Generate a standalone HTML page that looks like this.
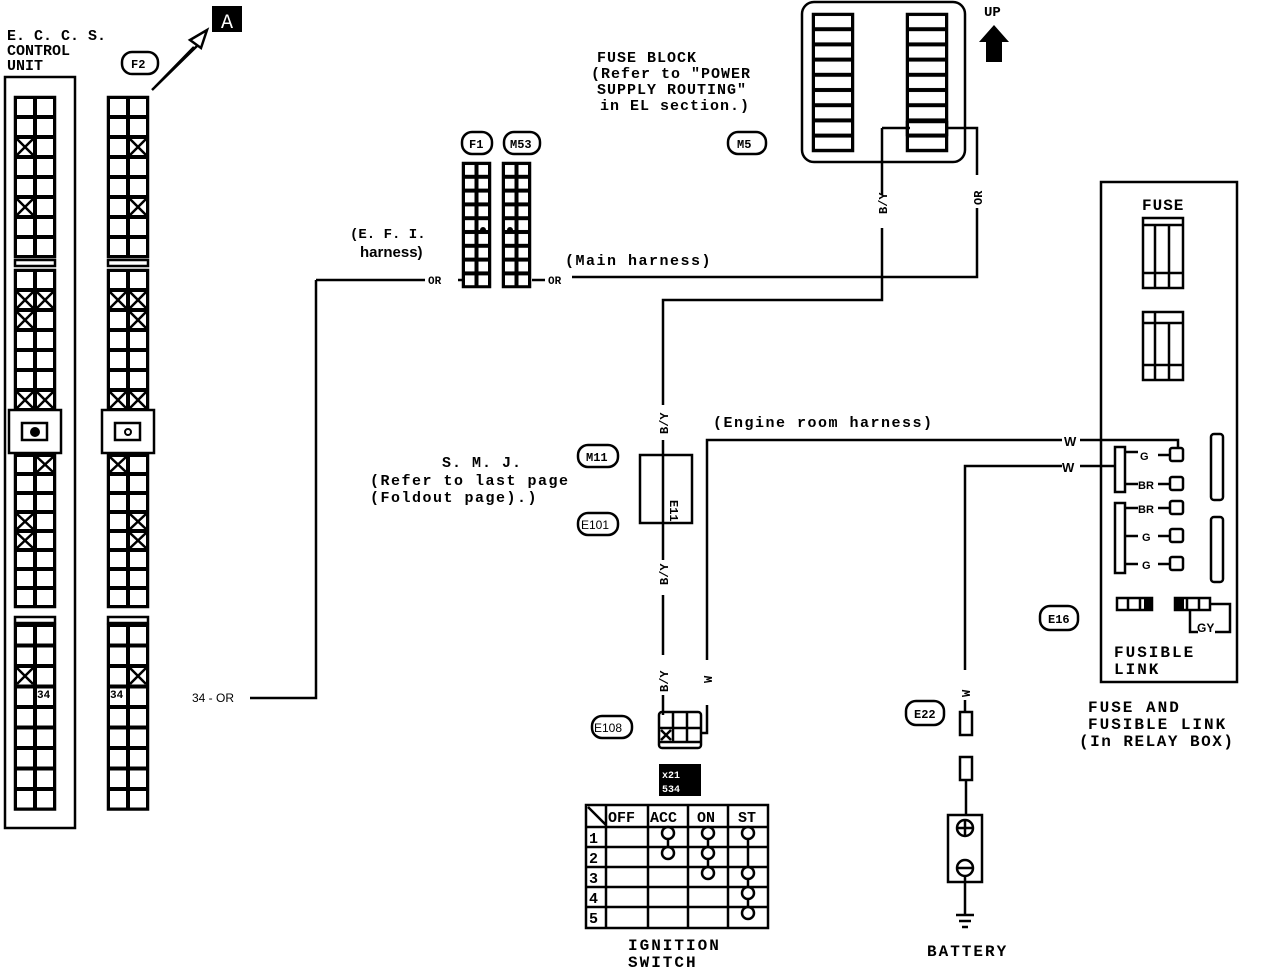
<!DOCTYPE html>
<html><head><meta charset="utf-8"><style>
html,body{margin:0;padding:0;background:#fff;}
svg{display:block;}
text{font-family:"Liberation Mono",monospace;font-weight:bold;fill:#000;}
</style></head><body>
<svg width="1264" height="970" viewBox="0 0 1264 970" xmlns="http://www.w3.org/2000/svg">
<defs>
<pattern id="c20" width="20" height="20" patternUnits="userSpaceOnUse"><rect x="0" y="0" width="20" height="20" fill="none" stroke="#000" stroke-width="4"/></pattern>
<pattern id="c19" width="20" height="19" patternUnits="userSpaceOnUse"><rect x="0" y="0" width="20" height="19" fill="none" stroke="#000" stroke-width="4"/></pattern>
<pattern id="c21" width="20" height="20.5" patternUnits="userSpaceOnUse"><rect x="0" y="0" width="20" height="20.5" fill="none" stroke="#000" stroke-width="4"/></pattern>
<pattern id="cf" width="13.5" height="13.8" patternUnits="userSpaceOnUse"><rect x="0" y="0" width="13.5" height="13.8" fill="none" stroke="#000" stroke-width="4"/></pattern>
<pattern id="cb" width="40" height="15.2" patternUnits="userSpaceOnUse"><rect x="0" y="0" width="40" height="15.2" fill="none" stroke="#000" stroke-width="4"/></pattern>
<g id="eccs" stroke="#000" stroke-width="2.5">
<g transform="translate(0,97)"><rect width="40" height="160" fill="url(#c20)"/></g>
<rect x="0" y="260" width="40" height="6" fill="none"/>
<g transform="translate(0,270)"><rect width="40" height="140" fill="url(#c20)"/></g>
<rect x="-6" y="410" width="52" height="43" fill="#fff"/>
<rect x="7" y="423" width="25" height="17" fill="none"/>
<g transform="translate(0,455)"><rect width="40" height="152" fill="url(#c19)"/></g>
<rect x="0" y="617" width="40" height="6" fill="none"/>
<g transform="translate(0,625)"><rect width="40" height="184.5" fill="url(#c21)"/></g>
</g>
</defs>
<use href="#eccs" x="15" y="0"/>
<use href="#eccs" x="108" y="0"/>
<circle cx="35" cy="432" r="5" fill="#000"/>
<circle cx="128" cy="432" r="3" fill="none" stroke="#000" stroke-width="2"/>
<g transform="translate(463,163)" stroke="#000" stroke-width="2.5"><rect width="27" height="124" fill="url(#cf)"/></g>
<g transform="translate(503,163)" stroke="#000" stroke-width="2.5"><rect width="27" height="124" fill="url(#cf)"/></g>
<g transform="translate(813,14)" stroke="#000" stroke-width="2.5"><rect width="40" height="137" fill="url(#cb)"/></g>
<g transform="translate(907,14)" stroke="#000" stroke-width="2.5"><rect width="40" height="137" fill="url(#cb)"/></g>
<circle cx="483" cy="230" r="3" fill="#000"/><circle cx="510" cy="230" r="3" fill="#000"/>
<g stroke="#000" stroke-width="2.5" fill="none">
<path d="M17 139L33 155M33 139L17 155M17 199L33 215M33 199L17 215M17 292L33 308M33 292L17 308M37 292L53 308M53 292L37 308M17 312L33 328M33 312L17 328M17 392L33 408M33 392L17 408M37 392L53 408M53 392L37 408M37 457L53 472M53 457L37 472M17 514L33 529M33 514L17 529M17 533L33 548M33 533L17 548M17 668L33 684M33 668L17 684"/>
<path d="M130 139L146 155M146 139L130 155M130 199L146 215M146 199L130 215M110 292L126 308M126 292L110 308M130 292L146 308M146 292L130 308M130 312L146 328M146 312L130 328M110 392L126 408M126 392L110 408M130 392L146 408M146 392L130 408M110 457L126 472M126 457L110 472M130 514L146 529M146 514L130 529M130 533L146 548M146 533L130 548M130 668L146 684M146 668L130 684"/>
<rect x="5" y="77" width="70" height="751"/>
<path d="M152 90 L198 45 M190 40 L207 30 L201 48 Z M155 87 L194 47"/>
<rect x="462" y="132" width="30" height="22" rx="10"/>
<rect x="504" y="132" width="36" height="22" rx="10"/>
<rect x="728" y="132" width="38" height="22" rx="10"/>
<rect x="122" y="52" width="36" height="22" rx="10"/>
<rect x="802" y="2" width="163" height="160" rx="12"/>
<rect x="907" y="122" width="40" height="13"/>
<path d="M882 128 H910 M882 128 V195 M882 228 V300 H663 V405 M663 440 V560 M663 595 V655 M663 695 V715"/>
<path d="M947 128 H977 V175 M977 208 V277 H572"/>
<path d="M532 280 H545 M458 280 H465"/>
<path d="M316 280 H425 M316 280 V698 H250"/>
<path d="M707 660 V440 H1062 M1080 440 H1178 V448"/>
<path d="M965 670 V466 H1062 M1080 466 H1115"/>
<path d="M707 705 V733 H700"/>
<path d="M965 700 V712"/>
<rect x="640" y="455" width="52" height="68"/>
<rect x="578" y="445" width="40" height="22" rx="10"/>
<rect x="578" y="513" width="40" height="22" rx="10"/>
<rect x="592" y="716" width="40" height="22" rx="10"/>
<rect x="906" y="701" width="38" height="24" rx="10"/>
<rect x="1040" y="606" width="38" height="24" rx="10"/>
<rect x="659" y="712" width="42" height="36" rx="3"/>
<path d="M659 728 H701 M673 712 V742 M687 712 V742 M659 742 H701"/>
<path d="M661 730 L671 740 M671 730 L661 740"/>
<rect x="960" y="712" width="12" height="23"/>
<rect x="960" y="757" width="12" height="23"/>
<path d="M966 780 V815"/>
<rect x="948" y="815" width="34" height="67"/>
<circle cx="965" cy="828" r="8"/><path d="M957 828 H973 M965 820 V836"/>
<circle cx="965" cy="868" r="8"/><path d="M957 868 H973"/>
<path d="M965 876 V915 M956 915 H974 M959 921 H971 M962 927 H968"/>
<rect x="586" y="805" width="182" height="123"/>
<path d="M606 805 V928 M648 805 V928 M688 805 V928 M728 805 V928 M586 827 H768 M586 847 H768 M586 867 H768 M586 887 H768 M586 907 H768 M588 807 L606 825"/>
<path d="M668 833 V853 M708 833 V873 M748 833 V913"/>
<g fill="#fff"><circle cx="668" cy="833" r="6"/><circle cx="708" cy="833" r="6"/><circle cx="748" cy="833" r="6"/><circle cx="668" cy="853" r="6"/><circle cx="708" cy="853" r="6"/><circle cx="708" cy="873" r="6"/><circle cx="748" cy="873" r="6"/><circle cx="748" cy="893" r="6"/><circle cx="748" cy="913" r="6"/></g>
<rect x="1101" y="182" width="136" height="500"/>
<rect x="1143" y="218" width="40" height="70"/><path d="M1143 225 H1183 M1155 225 V288 M1169 225 V288 M1143 273 H1183"/>
<rect x="1143" y="312" width="40" height="68"/><path d="M1143 323 H1183 M1155 312 V380 M1169 323 V380 M1143 365 H1183"/>
<rect x="1115" y="447" width="10" height="45"/>
<rect x="1115" y="503" width="10" height="70"/>
<path d="M1125 452 H1138 M1125 484 H1138 M1125 508 H1138 M1125 536 H1138 M1125 564 H1138 M1158 455 H1170 M1158 484 H1170 M1158 508 H1170 M1158 536 H1170 M1158 564 H1170"/>
<rect x="1170" y="448" width="13" height="13" rx="2"/><rect x="1170" y="477" width="13" height="13" rx="2"/><rect x="1170" y="501" width="13" height="13" rx="2"/><rect x="1170" y="529" width="13" height="13" rx="2"/><rect x="1170" y="557" width="13" height="13" rx="2"/>
<rect x="1211" y="434" width="12" height="66" rx="3"/><rect x="1211" y="517" width="12" height="65" rx="3"/>
<rect x="1117" y="598" width="35" height="12"/><path d="M1128 598 V610 M1140 598 V610"/>
<rect x="1175" y="598" width="35" height="12"/><path d="M1187 598 V610 M1199 598 V610 M1210 604 H1230 V632 H1215 M1190 610 V632 H1198"/>
</g>
<g fill="#000">
<rect x="212" y="6" width="30" height="26"/>
<path d="M979 42 L994 25 L1009 42 H1002 V62 H986 V42 Z"/>
<rect x="659" y="764" width="42" height="32"/>
<rect x="1144" y="598" width="8" height="12"/><rect x="1176" y="598" width="8" height="12"/>
</g>
<text x="227" y="28" font-size="20" style="fill:#fff;font-weight:normal" text-anchor="middle">A</text>
<g font-size="14">
<text x="7" y="40" font-size="15">E. C. C. S.</text>
<text x="7" y="55" font-size="15">CONTROL</text>
<text x="7" y="70" font-size="15">UNIT</text>
<text x="131" y="68" font-size="12">F2</text>
<text x="469" y="148" font-size="12">F1</text>
<text x="510" y="148" font-size="12">M53</text>
<text x="737" y="148" font-size="12">M5</text>
<text x="984" y="16" font-size="14">UP</text>
<text x="597" y="62" font-size="15" letter-spacing="1">FUSE BLOCK</text>
<text x="591" y="78" font-size="15" letter-spacing="1">(Refer to "POWER</text>
<text x="597" y="94" font-size="15" letter-spacing="1">SUPPLY ROUTING"</text>
<text x="600" y="110" font-size="15" letter-spacing="1">in EL section.)</text>
<text x="350" y="238" font-size="14">(E. F. I.</text>
<text x="360" y="257" font-size="15" style="font-family:'Liberation Sans'">harness)</text>
<text x="565" y="265" font-size="15" letter-spacing="1.5">(Main harness)</text>
<text x="428" y="284" font-size="11">OR</text>
<text x="548" y="284" font-size="11">OR</text>
<text x="192" y="702" font-size="12" style="font-family:'Liberation Sans';font-weight:normal">34 - OR</text>
<text x="713" y="427" font-size="15" letter-spacing="1.5">(Engine room harness)</text>
<text x="1064" y="446" font-size="13" style="font-family:'Liberation Sans'">W</text>
<text x="1062" y="472" font-size="13" style="font-family:'Liberation Sans'">W</text>
<text x="442" y="467" font-size="15" letter-spacing="1">S. M. J.</text>
<text x="370" y="485" font-size="15" letter-spacing="1.5">(Refer to last page</text>
<text x="370" y="502" font-size="15" letter-spacing="1.5">(Foldout page).)</text>
<text x="586" y="461" font-size="12">M11</text>
<text x="581" y="529" font-size="12" style="font-family:'Liberation Sans';font-weight:normal">E101</text>
<text x="594" y="732" font-size="12" style="font-family:'Liberation Sans';font-weight:normal">E108</text>
<text x="914" y="718" font-size="12">E22</text>
<text x="1048" y="623" font-size="12">E16</text>
<text x="1142" y="210" font-size="16" letter-spacing="1">FUSE</text>
<text x="1140" y="460" font-size="11" style="font-family:'Liberation Sans'">G</text>
<text x="1138" y="489" font-size="11" style="font-family:'Liberation Sans'">BR</text>
<text x="1138" y="513" font-size="11" style="font-family:'Liberation Sans'">BR</text>
<text x="1142" y="541" font-size="11" style="font-family:'Liberation Sans'">G</text>
<text x="1142" y="569" font-size="11" style="font-family:'Liberation Sans'">G</text>
<text x="1197" y="632" font-size="12" style="font-family:'Liberation Sans'">GY</text>
<text x="1114" y="657" font-size="16" letter-spacing="2">FUSIBLE</text>
<text x="1114" y="674" font-size="16" letter-spacing="2">LINK</text>
<text x="1088" y="712" font-size="16" letter-spacing="2">FUSE AND</text>
<text x="1088" y="729" font-size="16" letter-spacing="2">FUSIBLE LINK</text>
<text x="1079" y="746" font-size="16" letter-spacing="1.5">(In RELAY BOX)</text>
<text x="927" y="956" font-size="16" letter-spacing="2">BATTERY</text>
<text x="628" y="950" font-size="16" letter-spacing="2">IGNITION</text>
<text x="628" y="967" font-size="16" letter-spacing="2">SWITCH</text>
<text x="608" y="822" font-size="15">OFF</text>
<text x="650" y="822" font-size="15">ACC</text>
<text x="697" y="822" font-size="15">ON</text>
<text x="738" y="822" font-size="15">ST</text>
<text x="589" y="843" font-size="15">1</text>
<text x="589" y="863" font-size="15">2</text>
<text x="589" y="883" font-size="15">3</text>
<text x="589" y="903" font-size="15">4</text>
<text x="589" y="923" font-size="15">5</text>
<text x="37" y="698" font-size="11">34</text>
<text x="110" y="698" font-size="11">34</text>
<text x="662" y="778" font-size="10" style="fill:#fff">x21</text>
<text x="662" y="792" font-size="10" style="fill:#fff">534</text>
</g>
<g font-size="12" style="font-family:'Liberation Sans'">
<text transform="translate(887,214) rotate(-90)" font-weight="bold">B/Y</text>
<text transform="translate(982,205) rotate(-90)" font-weight="bold">OR</text>
<text transform="translate(668,434) rotate(-90)" font-weight="bold">B/Y</text>
<text transform="translate(668,585) rotate(-90)" font-weight="bold">B/Y</text>
<text transform="translate(668,692) rotate(-90)" font-weight="bold">B/Y</text>
<text transform="translate(712,683) rotate(-90)" font-weight="bold">W</text>
<text transform="translate(970,697) rotate(-90)" font-weight="bold">W</text>
<text transform="translate(670,500) rotate(90)" font-weight="bold">E11</text>
</g>
</svg>
</body></html>
